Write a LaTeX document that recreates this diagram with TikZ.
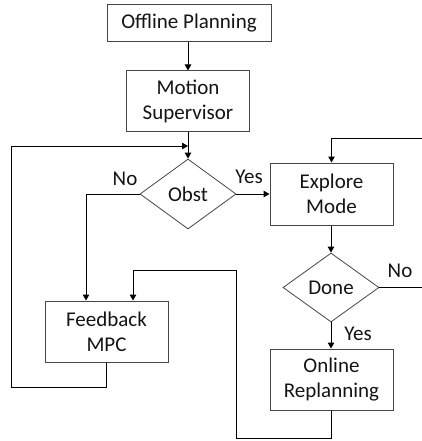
\documentclass[tikz,border=0pt]{standalone}
\usepackage{fontspec}
\setmainfont{Carlito}
\usetikzlibrary{shapes.geometric,arrows.meta}
\definecolor{boxline}{RGB}{70,70,70}
\definecolor{txt}{RGB}{20,20,20}
\tikzset{
  stepbox/.style={draw=boxline, line width=1pt, inner sep=0pt, align=center,
    text=txt, font=\fontsize{21}{25}\selectfont},
  decbox/.style={draw=boxline, line width=0.8pt, diamond, inner sep=0pt,
    minimum width=96pt, minimum height=70pt, text=txt, font=\fontsize{21}{25}\selectfont},
  lbl/.style={anchor=base, inner sep=0pt, text=txt, font=\fontsize{21}{25}\selectfont},
  conn/.style={draw=black, line width=1pt},
  arr/.style={conn, -{Triangle[length=6pt,width=6.5pt]}}
}
\begin{document}
\begin{tikzpicture}[x=1pt,y=-1pt]
\useasboundingbox (0,0) rectangle (422,441);
\node[stepbox, minimum width=164pt, minimum height=37pt] (off) at (189,23.5) {Offline Planning};
\node[stepbox, minimum width=123pt, minimum height=60pt] (mot) at (188,101) {Motion\\Supervisor};
\node[decbox] (obst) at (188,194) {Obst};
\node[stepbox, minimum width=123pt, minimum height=62pt] (exp) at (331.5,194) {Explore\\Mode};
\node[decbox, minimum height=69pt] (done) at (331,287.5) {Done};
\node[stepbox, minimum width=123pt, minimum height=61pt] (fb) at (106.5,331.5) {Feedback\\MPC};
\node[stepbox, minimum width=123pt, minimum height=61pt] (on) at (331.5,379.5) {Online\\Replanning};

\coordinate (c1) at (236,270);
\coordinate (c2) at (236,438);
\coordinate (c3) at (11,387);
\coordinate (c4) at (11,146);
\coordinate (c5) at (422,138);
\coordinate (c6) at (422,287.5);

\draw[arr] (off.south -| mot.north) -- (mot.north);
\draw[arr] (mot.south) -- (obst.north);
\draw[arr] (obst.east) -- (obst.east -| exp.west);
\draw[arr] (obst.west) -| ([xshift=-20.5pt]fb.north);
\draw[arr] (on.south) |- (c2) -- (c1) -| ([xshift=26.5pt]fb.north);
\draw[arr] (fb.south) |- (c3) -- (c4) -- (c4 -| obst.north);
\draw[arr] (c5) -| (exp.north);
\draw[arr] (exp.south -| done.north) -- (done.north);
\draw[conn] (done.east) -- (c6);
\draw[arr] (done.south) -- (done.south |- on.north);

\node[lbl] (l1) at (125,185) {No};
\node[lbl] (l2) at (249,183.5) {Yes};
\node[lbl] (l3) at (400,277) {No};
\node[lbl] (l4) at (358,340) {Yes};
\end{tikzpicture}
\end{document}
